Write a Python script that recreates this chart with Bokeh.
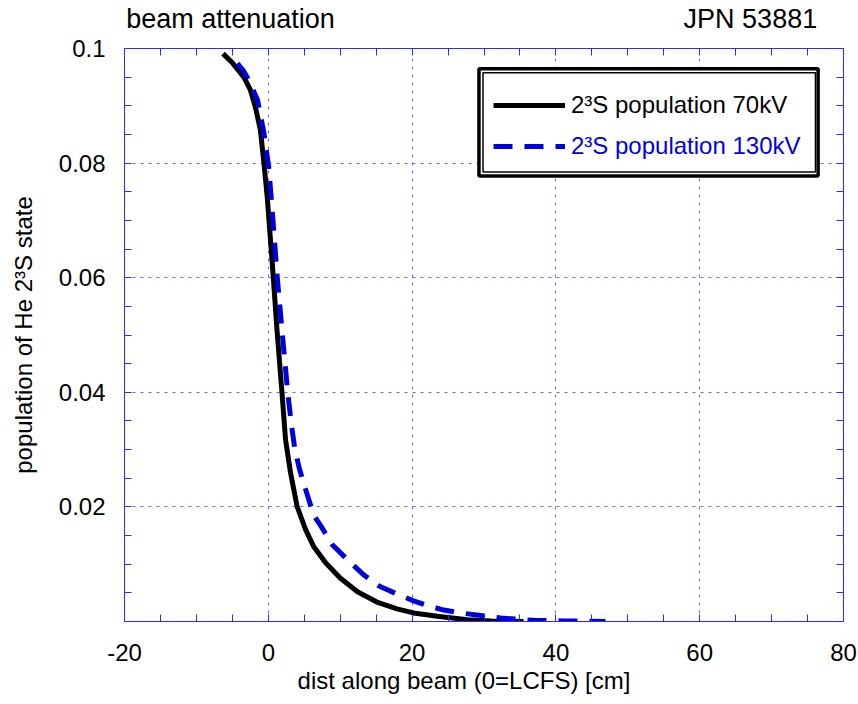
from bokeh.plotting import figure
from bokeh.models import (Range1d, FixedTicker, LinearAxis, Label, Legend,
                          LegendItem, BoxAnnotation)
from bokeh.core.properties import value
from bokeh.embed import file_html
from bokeh.resources import INLINE

# ---------------- data ----------------
dist_70kv = [-6.3, -5.0, -3.4, -2.5, -1.8, -1.1, -0.6, -0.15, 0.2, 0.7, 1.2,
             1.9, 2.4, 3.1, 4.0, 5.2, 6.3, 8.0, 10.0, 12.4, 15.1, 17.9, 20.2,
             23.5, 27.7, 31.0, 35.5]
pop_70kv = [0.0991, 0.0975, 0.0950, 0.0928, 0.0898, 0.0858, 0.0799, 0.0741,
            0.0683, 0.0600, 0.0510, 0.0400, 0.0317, 0.0259, 0.0201, 0.0160,
            0.0131, 0.0102, 0.0076, 0.0052, 0.0034, 0.0022, 0.0015, 0.0009,
            0.0003, 0.0001, 0.0000]

dist_130kv = [-4.3, -3.5, -2.7, -1.5, -0.6, 0.05, 0.5, 1.25, 2.0, 2.7, 3.2,
              3.7, 4.3, 4.9, 5.5, 6.3, 7.5, 8.9, 11.0, 13.3, 15.4, 17.9, 20.0,
              22.1, 24.4, 26.7, 32.3, 36.9, 41.0, 46.9]
pop_130kv = [0.0974, 0.0962, 0.0945, 0.0910, 0.0852, 0.0794, 0.0725, 0.0600,
             0.0495, 0.0400, 0.0345, 0.0300, 0.0268, 0.0242, 0.0218, 0.0186,
             0.0163, 0.0134, 0.0108, 0.0081, 0.0062, 0.0048, 0.0037, 0.0028,
             0.0020, 0.0015, 0.0006, 0.0002, 0.0001, 0.0000]

series_labels = ["2\u00b3S population 70kV", "2\u00b3S population 130kV"]

x_ticks = [-20, 0, 20, 40, 60, 80]
x_tick_labels = ["-20", "0", "20", "40", "60", "80"]
x_minor_ticks = [-15, -10, -5, 5, 10, 15, 25, 30, 35, 45, 50, 55, 65, 70, 75]
top_marks = [-15, -10, -5, 0, 5, 10, 15, 20, 25, 30, 35, 40, 45, 50, 55, 60,
             65, 70, 75]
y_ticks = [0.02, 0.04, 0.06, 0.08, 0.1]
y_tick_labels = ["0.02", "0.04", "0.06", "0.08", "0.1"]
y_minor_ticks = [0.005, 0.01, 0.015, 0.025, 0.03, 0.035, 0.045, 0.05, 0.055,
                 0.065, 0.07, 0.075, 0.085, 0.09, 0.095]

# header texts, placed above the frame (centre in x-axis units)
header_texts = ["beam attenuation", "JPN 53881"]
header_centres = [-5.26, 67.05]
x_label = "dist along beam (0=LCFS) [cm]"
y_label = "population of He 2\u00b3S state"

# ---------------- styling ----------------
FONT = "Liberation Sans"
AXIS_BLUE = "#2a2aff"
GRID_BLUE = "#6464ff"
CURVE_BLUE = "#0000dd"

p = figure(width=858, height=704, output_backend="svg", toolbar_location=None,
           x_range=Range1d(-20, 80), y_range=Range1d(0, 0.1),
           min_border_left=124, min_border_right=15, min_border_top=48,
           min_border_bottom=83)
p.background_fill_color = "white"
p.border_fill_color = "white"
p.outline_line_color = AXIS_BLUE
p.outline_line_width = 1


def style_axis(ax, show):
    ax.axis_line_color = AXIS_BLUE
    ax.axis_line_width = 1
    ax.major_tick_line_color = AXIS_BLUE
    ax.minor_tick_line_color = AXIS_BLUE
    ax.major_tick_in = 7
    ax.major_tick_out = 0
    ax.minor_tick_in = 7
    ax.minor_tick_out = 0
    ax.major_label_text_font = FONT
    ax.major_label_text_color = "black"
    if show:
        ax.major_label_text_font_size = "24px"
    else:
        ax.major_label_text_font_size = "1px"
        ax.major_label_standoff = 0


p.xaxis.ticker = FixedTicker(ticks=x_ticks, minor_ticks=x_minor_ticks)
p.yaxis.ticker = FixedTicker(ticks=y_ticks, minor_ticks=y_minor_ticks)
style_axis(p.xaxis[0], True)
style_axis(p.yaxis[0], True)
p.xaxis.major_label_standoff = 22
p.yaxis.major_label_standoff = 19
p.xaxis.major_label_overrides = dict(zip(x_ticks, x_tick_labels))
p.yaxis.major_label_overrides = dict(zip(y_ticks, y_tick_labels))

p.yaxis.axis_label = y_label
p.yaxis.axis_label_text_font = FONT
p.yaxis.axis_label_text_font_size = "24px"
p.yaxis.axis_label_text_font_style = "normal"
p.yaxis.axis_label_text_color = "black"
p.yaxis.axis_label_standoff = 19

# top axis: blue tick marks (as minor ticks) and the two header texts
top_axis = LinearAxis(ticker=FixedTicker(ticks=header_centres,
                                         minor_ticks=top_marks))
style_axis(top_axis, True)
top_axis.major_tick_in = 0
top_axis.major_tick_out = 0
top_axis.major_label_text_font_size = "27px"
top_axis.major_label_standoff = 15
top_axis.major_label_overrides = dict(zip(header_centres, header_texts))
p.add_layout(top_axis, "above")

right_axis = LinearAxis(ticker=FixedTicker(ticks=y_ticks, minor_ticks=y_minor_ticks))
style_axis(right_axis, False)
right_axis.major_label_overrides = {t: "" for t in y_ticks}
p.add_layout(right_axis, "right")

for g in (p.xgrid[0], p.ygrid[0]):
    g.grid_line_color = GRID_BLUE
    g.grid_line_width = 1
    g.grid_line_dash = "3 5"

# ---------------- curves ----------------
r70 = p.line(dist_70kv, pop_70kv, line_color="black", line_width=5,
             line_join="round")
r130 = p.line(dist_130kv, pop_130kv, line_color=CURVE_BLUE, line_width=5,
              line_dash="19 12")

# ---------------- legend box (double border) ----------------
outer = BoxAnnotation(left=29.3, right=76.47, top=0.09648, bottom=0.07773,
                      fill_color="white", fill_alpha=1.0,
                      line_color="black", line_width=3.5, line_alpha=1.0)
inner = BoxAnnotation(left=29.86, right=76.1, top=0.09578, bottom=0.07843,
                      fill_alpha=0.0, line_color="black", line_width=1.5,
                      line_alpha=1.0)
p.add_layout(outer)
p.add_layout(inner)


def make_legend(label, renderer, color, loc):
    lg = Legend(items=[LegendItem(label=value(label), renderers=[renderer])],
                location=loc, orientation="vertical")
    lg.border_line_color = None
    lg.background_fill_alpha = 0.0
    lg.padding = 0
    lg.margin = 0
    lg.spacing = 0
    lg.glyph_width = 72
    lg.glyph_height = 30
    lg.label_height = 30
    lg.label_standoff = 6
    lg.label_text_font = FONT
    lg.label_text_font_size = "24px"
    lg.label_text_color = color
    return lg


p.add_layout(make_legend(series_labels[0], r70, "black", (369, 500.7)))
p.add_layout(make_legend(series_labels[1], r130, CURVE_BLUE, (369, 459.7)))

# ---------------- x-axis title (below panel) ----------------
p.add_layout(Label(x=339.5, y=10, x_units="screen", y_units="screen",
                   text=x_label, text_font=FONT, text_font_size="24px",
                   text_align="center", text_baseline="alphabetic",
                   text_color="black"), "below")

open("out.html", "w").write(file_html(p, INLINE))
